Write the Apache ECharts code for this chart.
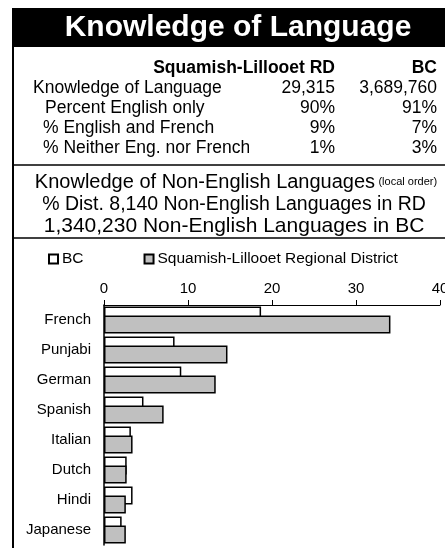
<!DOCTYPE HTML>
<html lang="en">
<head>
<meta charset="utf-8">
<title>Knowledge of Language</title>
<style>
html, body {
  margin: 0;
  background: #fff;
}
#chart {
  width: 445px;
  height: 548px;
}
</style>
</head>
<body>
<div id="chart"></div>
<script src="https://cdn.jsdelivr.net/npm/echarts@6.0.0/dist/echarts.min.js"></script>
<script>
// summary table
var tableHeads = ['Squamish-Lillooet RD', 'BC'];
var tableRows = ['Knowledge of Language', 'Percent English only', '% English and French', '% Neither Eng. nor French'];
var rdColumn = ['29,315', '90%', '9%', '1%'];
var bcColumn = ['3,689,760', '91%', '7%', '3%'];

// non-english languages, % distribution
var languages = ['French', 'Punjabi', 'German', 'Spanish', 'Italian', 'Dutch', 'Hindi', 'Japanese'];
var bcShares = [18.7, 8.4, 9.2, 4.7, 3.2, 2.7, 3.4, 2.1];
var rdShares = [34.1, 14.7, 13.3, 7.1, 3.4, 2.7, 2.6, 2.6];

var FONT = '"Liberation Sans", Arial, sans-serif';
var rowIndent = [33, 45, 43, 43];

function txt(text, x, y, size, align, extra) {
  var el = {
    type: 'text',
    z: 10,
    style: {
      text: text,
      x: x,
      y: y,
      fill: '#000',
      font: size + 'px ' + FONT,
      textAlign: align,
      textVerticalAlign: 'middle'
    }
  };
  if (extra) Object.assign(el.style, extra);
  return el;
}

var graphics = [
  // left border + title banner
  { type: 'rect', z: 5, shape: { x: 13, y: 8, width: 432, height: 39 }, style: { fill: '#000' } },
  { type: 'line', z: 5, shape: { x1: 13, y1: 8, x2: 13, y2: 548 }, style: { stroke: '#000', lineWidth: 2 } },
  txt('Knowledge of Language', 238, 28, 30, 'center', { fill: '#fff', font: 'bold 30px ' + FONT }),
  txt(tableHeads[0], 335, 68, 17.5, 'right', { font: 'bold 17.5px ' + FONT }),
  txt(tableHeads[1], 437, 68, 17.5, 'right', { font: 'bold 17.5px ' + FONT }),
  { type: 'line', z: 5, shape: { x1: 13, y1: 165, x2: 445, y2: 165 }, style: { stroke: '#000', lineWidth: 1.5 } },
  {
    type: 'text', z: 10,
    style: {
      text: '{a|Knowledge of Non-English Languages} {b|(local order)}',
      x: 236, y: 182, textAlign: 'center', textVerticalAlign: 'middle',
      rich: {
        a: { fontSize: 20, fontFamily: FONT, fill: '#000' },
        b: { fontSize: 11, fontFamily: FONT, fill: '#000' }
      }
    }
  },
  txt('% Dist. 8,140 Non-English Languages in RD', 234, 205, 19.5, 'center'),
  txt('1,340,230 Non-English Languages in BC', 234, 226, 21, 'center'),
  { type: 'line', z: 5, shape: { x1: 13, y1: 238, x2: 445, y2: 238 }, style: { stroke: '#000', lineWidth: 1.5 } }
];

tableRows.forEach(function (label, i) {
  var y = 88 + i * 20;
  graphics.push(txt(label, rowIndent[i], y, 17.5, 'left'));
  graphics.push(txt(rdColumn[i], 335, y, 17.5, 'right'));
  graphics.push(txt(bcColumn[i], 437, y, 17.5, 'right'));
});
// last row label is cut off in the source
graphics.push({ type: 'rect', z: 11, shape: { x: 249, y: 139, width: 12, height: 20 }, style: { fill: '#fff' } });

var chart = echarts.init(document.getElementById('chart'), null, { renderer: 'canvas' });
chart.setOption({
  animation: false,
  textStyle: { fontFamily: FONT },
  graphic: graphics,
  legend: {
    left: 48,
    top: 251,
    padding: 0,
    itemWidth: 9,
    itemHeight: 9,
    itemGap: 60,
    icon: 'rect',
    textStyle: { fontSize: 15.5, color: '#000', padding: [0, 0, 0, -1] },
    data: ['BC', 'Squamish-Lillooet Regional District']
  },
  grid: {
    left: 104,
    right: 5,
    top: 305,
    bottom: 3,
    outerBoundsMode: 'none'
  },
  xAxis: {
    type: 'value',
    position: 'top',
    min: 0,
    max: 40,
    interval: 10,
    axisLine: { show: true, lineStyle: { color: '#000', width: 1 } },
    axisTick: { show: true, length: 5, lineStyle: { color: '#000' } },
    axisLabel: { fontSize: 15, color: '#000', margin: 9 },
    splitLine: { show: false }
  },
  yAxis: {
    type: 'category',
    inverse: true,
    data: languages,
    axisLine: { show: true, lineStyle: { color: '#000', width: 1.5 } },
    axisTick: { show: false },
    axisLabel: { fontSize: 15, color: '#000', margin: 13 }
  },
  series: [
    {
      name: 'BC',
      type: 'bar',
      data: bcShares,
      barGap: '-50%',
      barCategoryGap: '10%',
      itemStyle: { color: '#fff', borderColor: '#000', borderWidth: 1.5 }
    },
    {
      name: 'Squamish-Lillooet Regional District',
      type: 'bar',
      data: rdShares,
      itemStyle: { color: '#c0c0c0', borderColor: '#000', borderWidth: 1.5 }
    }
  ]
});
</script>
</body>
</html>
